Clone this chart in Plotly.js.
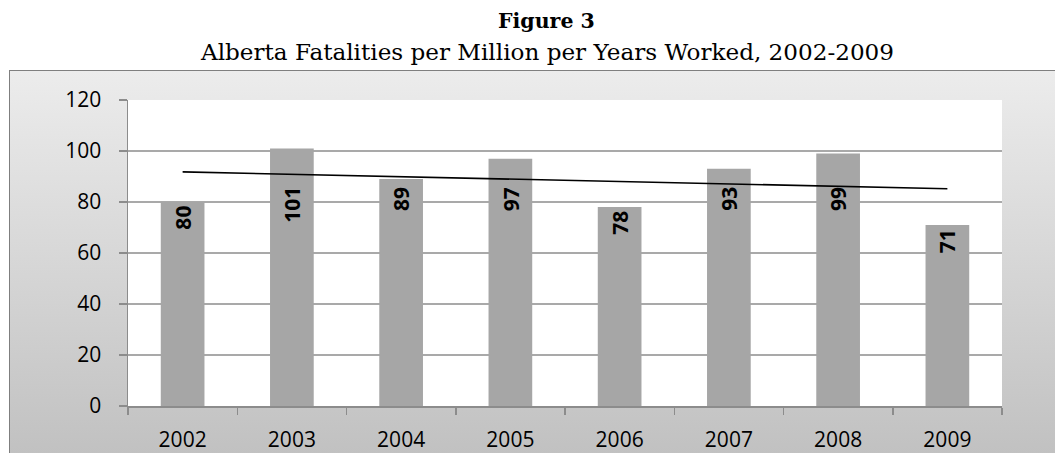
<!DOCTYPE html>
<html>
<head>
<meta charset="utf-8">
<script src="https://cdn.plot.ly/plotly-3.0.1.min.js"></script>
<style>
  html, body { margin: 0; padding: 0; background: #ffffff; overflow: hidden; }
  #frame {
    position: absolute; left: 9px; top: 70px; width: 1100px; height: 400px;
    border: 1px solid #7f7f7f;
    background: linear-gradient(to bottom, #ececec 0px, #c1c1c1 383px);
  }
  #chart { position: absolute; left: 0; top: 0; width: 1055px; height: 453px; }
</style>
</head>
<body>
<div id="frame"></div>
<div id="chart"></div>
<script>
// ---- data ----
const years = ['2002', '2003', '2004', '2005', '2006', '2007', '2008', '2009'];
const fatalities = [80, 101, 89, 97, 78, 93, 99, 71];
const trendYears = ['2002', '2009'];
const trendValues = [91.8, 85.2];
const yTicks = [0, 20, 40, 60, 80, 100, 120];
const titleMain = 'Figure 3';
const titleSub = 'Alberta Fatalities per Million per Years Worked, 2002-2009';

// label placement rule (labels of tall bars sit lower, below the trend line)
const labelCap = 87.5;

// fit the serif title fonts to the widths seen in the reference
const serif = 'DejaVu Serif';
function fitSize(text, bold, targetWidth) {
  const c = document.createElement('canvas').getContext('2d');
  c.font = (bold ? 'bold ' : '') + '100px "' + serif + '"';
  const w = c.measureText(text).width;
  return Math.round(100 * targetWidth / w * 10) / 10;
}
const mainSize = fitSize(titleMain, true, 97);
const subSize = fitSize(titleSub, false, 692);

const barTrace = {
  type: 'bar',
  x: years,
  y: fatalities,
  marker: { color: '#a6a6a6', line: { width: 0 } },
  hoverinfo: 'skip',
  showlegend: false
};

const trendTrace = {
  type: 'scatter',
  mode: 'lines',
  x: trendYears,
  y: trendValues,
  line: { color: '#000000', width: 1.6 },
  hoverinfo: 'skip',
  showlegend: false
};

const labelAnnotations = years.map((yr, i) => ({
  xref: 'x', yref: 'y',
  x: i,
  y: Math.min(fatalities[i], labelCap),
  text: String(fatalities[i]),
  showarrow: false,
  textangle: -90,
  xanchor: 'center',
  yanchor: 'top',
  yshift: -2,
  font: { family: 'Open Sans, sans-serif', size: 21, color: '#000000', weight: 'bold' }
}));

const titleAnnotations = [
  {
    xref: 'paper', yref: 'paper', x: 0.4794, y: 1, yanchor: 'middle',
    yshift: 79, text: '<b>' + titleMain + '</b>', showarrow: false,
    font: { family: serif + ', serif', size: mainSize, color: '#000000' }
  },
  {
    xref: 'paper', yref: 'paper', x: 0.4794, y: 1, yanchor: 'middle',
    yshift: 48, text: titleSub, showarrow: false,
    font: { family: serif + ', serif', size: subSize, color: '#000000' }
  }
];

const layout = {
  width: 1055,
  height: 453,
  margin: { l: 128, r: 53, t: 100, b: 47, pad: 0 },
  paper_bgcolor: 'rgba(0,0,0,0)',
  plot_bgcolor: '#ffffff',
  bargap: 0.6,
  xaxis: {
    type: 'category',
    categoryorder: 'array',
    categoryarray: years,
    range: [-0.5, years.length - 0.5],
    showgrid: false,
    showline: true,
    linecolor: '#8c8c8c',
    linewidth: 1.5,
    ticks: 'outside',
    tickson: 'boundaries',
    ticklen: 7,
    tickcolor: '#8c8c8c',
    tickwidth: 1.5,
    ticklabelstandoff: 14,
    tickangle: 0,
    tickfont: { family: 'Open Sans, sans-serif', size: 21, color: '#000000' },
    fixedrange: true
  },
  yaxis: {
    range: [0, 120],
    tickvals: yTicks,
    showgrid: true,
    gridcolor: '#a9a9a9',
    gridwidth: 1.5,
    zeroline: false,
    showline: true,
    linecolor: '#8c8c8c',
    linewidth: 1.5,
    ticks: 'outside',
    ticklen: 8,
    tickcolor: '#8c8c8c',
    tickwidth: 1.5,
    ticklabelstandoff: 13,
    tickfont: { family: 'Open Sans, sans-serif', size: 21, color: '#000000' },
    fixedrange: true
  },
  annotations: titleAnnotations.concat(labelAnnotations),
  hovermode: false
};

Plotly.newPlot('chart', [barTrace, trendTrace], layout, { displayModeBar: false, staticPlot: true });
</script>
</body>
</html>
